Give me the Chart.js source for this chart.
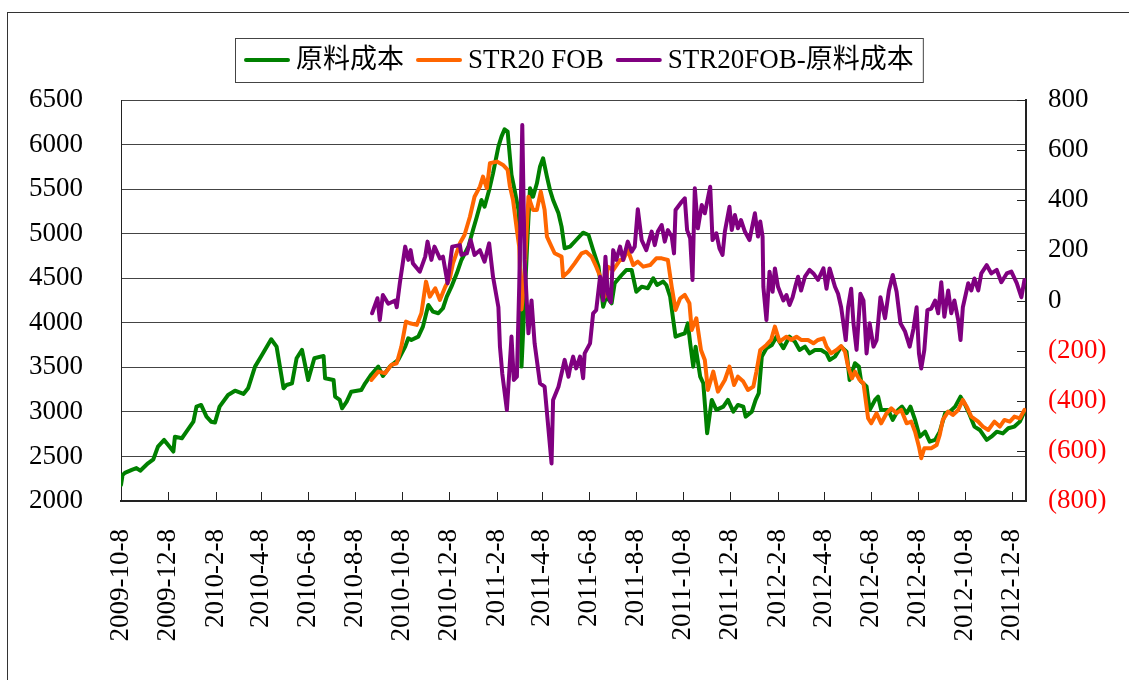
<!DOCTYPE html>
<html>
<head>
<meta charset="utf-8">
<script src="https://cdn.jsdelivr.net/npm/chart.js@4.4.1/dist/chart.umd.min.js"></script>
<style>
  body { margin: 0; background: #fff; }
  canvas { display: block; }
</style>
</head>
<body>
<canvas id="rubberChart" width="1129" height="680"></canvas>
<script>
// x positions are days since 2009-10-08
const startDate = Date.UTC(2009, 9, 8);
const tickLabels = ['2009-10-8', '2009-12-8', '2010-2-8', '2010-4-8', '2010-6-8', '2010-8-8',
  '2010-10-8', '2010-12-8', '2011-2-8', '2011-4-8', '2011-6-8', '2011-8-8', '2011-10-8',
  '2011-12-8', '2012-2-8', '2012-4-8', '2012-6-8', '2012-8-8', '2012-10-8', '2012-12-8'];

const costDays = [0, 2, 5, 14, 20, 25, 35, 42, 48, 56, 61, 68, 70, 79, 85, 94, 98, 104, 111, 117,
  122, 128, 139, 148, 159, 165, 174, 183, 195, 202, 211, 215, 222, 228, 235, 243, 251, 263, 265, 276,
  278, 284, 287, 293, 299, 312, 317, 325, 334, 340, 349, 360, 369, 373, 377, 386, 392, 399, 405, 412,
  418, 423, 429, 436, 442, 451, 457, 462, 468, 472, 478, 483, 490, 494, 498, 502, 507, 511, 516, 518,
  520, 523, 528, 531, 535, 540, 544, 548, 553, 557, 561, 568, 572, 576, 583, 591, 600, 607, 613, 620,
  626, 630, 637, 641, 650, 656, 663, 669, 676, 684, 691, 696, 704, 708, 713, 717, 720, 726, 732, 736,
  739, 743, 746, 752, 756, 761, 767, 773, 782, 788, 795, 801, 808, 811, 819, 824, 828, 832, 838, 845,
  851, 860, 868, 875, 881, 888, 894, 901, 909, 916, 920, 927, 935, 942, 946, 953, 958, 961, 968, 972,
  979, 983, 987, 996, 1002, 1009, 1014, 1020, 1025, 1031, 1037, 1044, 1050, 1057, 1063, 1070, 1076,
  1083, 1090, 1095, 1102, 1108, 1115, 1124, 1130, 1137, 1145, 1152, 1160, 1167, 1172];
const costVals = [2180, 2290, 2315, 2350, 2370, 2340, 2423, 2468, 2610, 2685, 2630, 2555, 2722, 2704,
  2778, 2890, 3059, 3078, 2947, 2890, 2880, 3059, 3190, 3238, 3201, 3265, 3508, 3638, 3815, 3732, 3265,
  3302, 3321, 3602, 3695, 3358, 3602, 3628, 3377, 3358, 3171, 3134, 3040, 3115, 3227, 3246, 3321, 3420,
  3508, 3403, 3508, 3583, 3732, 3826, 3807, 3845, 3957, 4200, 4125, 4107, 4163, 4293, 4405, 4555, 4705,
  4854, 5041, 5190, 5378, 5303, 5490, 5677, 5976, 6089, 6171, 6145, 5659, 5490, 5266, 4817, 3508, 4069,
  5003, 5509, 5415, 5565, 5752, 5846, 5640, 5490, 5378, 5228, 5079, 4836, 4854, 4929, 5011, 4985, 4817,
  4630, 4181, 4293, 4219, 4443, 4536, 4592, 4592, 4349, 4405, 4387, 4499, 4424, 4462, 4424, 4293, 4032,
  3844, 3863, 3882, 3994, 3770, 3508, 3732, 3396, 3321, 2761, 3134, 3022, 3059, 3134, 3003, 3078, 3059,
  2947, 3003, 3134, 3209, 3620, 3714, 3751, 3844, 3714, 3844, 3788, 3695, 3732, 3657, 3695, 3695, 3657,
  3583, 3620, 3732, 3676, 3358, 3546, 3508, 3340, 3284, 3022, 3134, 3171, 3022, 3022, 2910, 3022, 3059,
  2985, 3059, 2910, 2722, 2778, 2666, 2685, 2778, 2985, 3003, 3059, 3171, 3097, 2966, 2835, 2797, 2685,
  2722, 2778, 2759, 2816, 2835, 2891, 2985];

const fobDays = [325, 334, 343, 351, 358, 364, 370, 375, 384, 390, 396, 401, 408, 414, 421, 427, 431,
  440, 446, 453, 459, 466, 470, 475, 479, 488, 496, 502, 505, 509, 514, 517, 520, 523, 529, 535, 540,
  545, 550, 553, 557, 563, 572, 574, 581, 589, 598, 604, 611, 617, 624, 628, 632, 639, 648, 652, 658,
  665, 671, 678, 687, 695, 702, 710, 715, 720, 726, 732, 738, 741, 747, 753, 758, 762, 769, 775, 784,
  790, 796, 801, 808, 814, 821, 825, 830, 838, 844, 849, 855, 864, 870, 877, 883, 892, 899, 905, 912,
  916, 922, 929, 935, 940, 944, 949, 953, 959, 964, 970, 974, 981, 987, 994, 1000, 1007, 1013, 1020,
  1026, 1031, 1036, 1039, 1043, 1052, 1059, 1063, 1067, 1074, 1080, 1087, 1093, 1098, 1104, 1113, 1119,
  1126, 1134, 1141, 1147, 1154, 1160, 1167, 1173];
const fobVals = [3358, 3452, 3433, 3527, 3546, 3732, 4013, 3995, 3976, 4107, 4462, 4293, 4387, 4256,
  4405, 4499, 4667, 4892, 4985, 5190, 5415, 5528, 5640, 5509, 5790, 5809, 5771, 5715, 5528, 5378, 5041,
  4854, 4150, 4405, 5415, 5266, 5266, 5472, 5266, 4966, 4892, 4780, 4742, 4518, 4574, 4667, 4780, 4798,
  4742, 4630, 4480, 4293, 4630, 4592, 4705, 4705, 4817, 4648, 4686, 4630, 4648, 4723, 4723, 4705, 4405,
  4144, 4275, 4312, 4219, 3920, 4050, 3695, 3583, 3246, 3452, 3227, 3358, 3508, 3302, 3396, 3340, 3246,
  3284, 3452, 3695, 3751, 3807, 3957, 3789, 3844, 3807, 3844, 3807, 3807, 3770, 3807, 3826, 3732, 3657,
  3695, 3739, 3676, 3508, 3377, 3452, 3358, 3321, 2928, 2872, 2985, 2872, 2985, 3040, 2985, 3022, 2872,
  2891, 2778, 2610, 2480, 2592, 2592, 2629, 2741, 2910, 3003, 2966, 3022, 3134, 3059, 2947, 2891, 2835,
  2797, 2891, 2835, 2910, 2891, 2947, 2928, 3022];

const spreadDays = [326, 333, 336, 340, 347, 356, 358, 362, 369, 373, 376, 379, 388, 395, 398, 403,
  407, 414, 418, 424, 430, 440, 442, 449, 454, 459, 466, 472, 478, 483, 490, 492, 495, 501, 507, 510,
  514, 517, 521, 524, 529, 533, 537, 544, 550, 559, 561, 568, 572, 576, 581, 583, 587, 591, 596, 600,
  602, 609, 613, 617, 622, 626, 629, 632, 636, 639, 643, 648, 652, 658, 663, 667, 671, 676, 682, 689,
  693, 697, 702, 706, 710, 715, 718, 720, 728, 732, 735, 739, 742, 745, 749, 754, 758, 765, 768, 773,
  777, 781, 784, 790, 793, 797, 801, 805, 810, 816, 823, 827, 830, 833, 834, 838, 842, 846, 849, 853,
  860, 864, 868, 872, 876, 879, 883, 888, 894, 899, 905, 912, 916, 920, 927, 931, 935, 941, 944, 948,
  951, 955, 960, 964, 968, 972, 977, 981, 986, 992, 997, 1002, 1007, 1012, 1018, 1024, 1029, 1033,
  1036, 1039, 1043, 1047, 1052, 1057, 1061, 1065, 1069, 1074, 1078, 1082, 1087, 1090, 1093, 1100,
  1104, 1108, 1113, 1117, 1124, 1130, 1137, 1143, 1150, 1156, 1163, 1169, 1173];
const spreadVals = [-51, 9, -78, 22, -13, 0, -27, 69, 215, 162, 201, 148, 115, 175, 235, 162, 215, 168,
  175, 69, 215, 221, 182, 188, 241, 182, 201, 155, 228, 95, -27, -184, -291, -437, -144, -317, -304, 55,
  700, 162, -131, 0, -171, -331, -344, -650, -397, -344, -291, -237, -304, -271, -224, -271, -224, -310,
  -211, -171, -51, -38, 95, 0, 175, 27, -7, 201, 162, 215, 162, 235, 195, 215, 364, 241, 201, 275, 221,
  275, 301, 235, 281, 255, 188, 361, 394, 408, 281, 248, 82, 448, 288, 381, 348, 454, 241, 268, 208, 182,
  275, 374, 281, 341, 288, 321, 275, 241, 348, 255, 315, 255, 55, -78, 115, 35, 128, 55, 0, 22, -18, 13,
  62, 95, 40, 95, 122, 108, 82, 128, 47, 128, 55, 27, -27, -158, -27, 47, -91, -197, 27, 0, -211, -91,
  -184, -158, 13, -71, 40, 102, 35, -91, -124, -184, -111, -27, -211, -271, -197, -38, -32, 0, -51, 73,
  -65, 40, -51, 0, -78, -158, -27, 69, 40, 88, 40, 108, 141, 108, 122, 73, 108, 115, 69, 13, 82];

const seriesNames = ['原料成本', 'STR20 FOB', 'STR20FOB-原料成本'];
const seriesColors = ['#008000', '#ff6600', '#800080'];

const FONT = "'Liberation Serif', 'Noto Sans CJK SC', serif";
const tickDays = tickLabels.map(s => {
  const [y, m, d] = s.split('-').map(Number);
  return Math.round((Date.UTC(y, m - 1, d) - startDate) / 86400000);
});
const toPoints = (days, vals) => days.map((d, i) => ({ x: d, y: vals[i] }));

// white page, outer frame, inside tick marks
const framePlugin = {
  id: 'frame',
  beforeDraw(chart) {
    const c = chart.ctx;
    c.save();
    c.fillStyle = '#fff';
    c.fillRect(0, 0, chart.width, chart.height);
    c.strokeStyle = '#333';
    c.lineWidth = 1;
    c.strokeRect(7.5, 12.5, 1300, 900);
    c.restore();
  },
  afterDraw(chart) {
    const c = chart.ctx;
    const a = chart.chartArea;
    c.save();
    c.strokeStyle = '#222';
    c.lineWidth = 1;
    c.beginPath();
    chart.scales.x.ticks.forEach(t => {
      const px = Math.round(chart.scales.x.getPixelForValue(t.value)) + 0.5;
      c.moveTo(px, a.bottom);
      c.lineTo(px, a.bottom - 9);
    });
    chart.scales.y2.ticks.forEach(t => {
      const py = Math.round(chart.scales.y2.getPixelForValue(t.value)) + 0.5;
      c.moveTo(a.right, py);
      c.lineTo(a.right - 9, py);
    });
    c.stroke();
    c.restore();
  }
};

// boxed legend above the plot
const legendPlugin = {
  id: 'boxLegend',
  afterDraw(chart) {
    const c = chart.ctx;
    c.save();
    c.font = '27px ' + FONT;
    c.textBaseline = 'middle';
    const lineLen = 46, gapText = 6, gapItem = 12, pad = 9;
    const widths = chart.data.datasets.map(ds => c.measureText(ds.label).width);
    let total = pad * 2;
    widths.forEach((w, i) => { total += lineLen + gapText + w + (i ? gapItem : 0); });
    const cx = 579, top = 38, h = 44, mid = top + h / 2;
    let x = Math.round(cx - total / 2);
    c.strokeStyle = '#444';
    c.lineWidth = 1;
    c.strokeRect(x + 0.5, top + 0.5, total, h);
    x += pad;
    chart.data.datasets.forEach((ds, i) => {
      if (i) x += gapItem;
      c.strokeStyle = ds.borderColor;
      c.lineWidth = 4;
      c.lineCap = 'round';
      c.beginPath();
      c.moveTo(x + 2, mid);
      c.lineTo(x + lineLen - 2, mid);
      c.stroke();
      x += lineLen + gapText;
      c.fillStyle = '#000';
      c.fillText(ds.label, x, mid + 1);
      x += widths[i];
    });
    c.restore();
  }
};

const lineStyle = { borderWidth: 4, pointRadius: 0, tension: 0, borderJoinStyle: 'round', borderCapStyle: 'round', fill: false };

new Chart(document.getElementById('rubberChart'), {
  type: 'line',
  data: {
    datasets: [
      { label: seriesNames[0], data: toPoints(costDays, costVals), borderColor: seriesColors[0], yAxisID: 'y', order: 2, ...lineStyle },
      { label: seriesNames[1], data: toPoints(fobDays, fobVals), borderColor: seriesColors[1], yAxisID: 'y', order: 1, ...lineStyle },
      { label: seriesNames[2], data: toPoints(spreadDays, spreadVals), borderColor: seriesColors[2], yAxisID: 'y2', order: 0, ...lineStyle }
    ]
  },
  options: {
    responsive: false,
    animation: false,
    layout: { padding: { top: 100, left: 0, right: 0, bottom: 0 } },
    plugins: { legend: { display: false }, tooltip: { enabled: false } },
    scales: {
      x: {
        type: 'linear',
        min: 0,
        max: 1175,
        afterBuildTicks: s => { s.ticks = tickDays.map(v => ({ value: v })); },
        afterFit: s => { s.height = 179; },
        grid: { display: false },
        border: { display: true, color: '#222', width: 2 },
        ticks: {
          autoSkip: false,
          maxRotation: 90,
          minRotation: 90,
          padding: 20,
          color: '#000',
          font: { family: FONT, size: 27 },
          callback: (v, i) => tickLabels[i]
        }
      },
      y: {
        position: 'left',
        min: 2000,
        max: 6500,
        afterFit: s => { s.width = 121; },
        grid: { color: '#444', lineWidth: 1, drawTicks: false },
        border: { display: true, color: '#222', width: 1 },
        ticks: {
          stepSize: 500,
          padding: 38,
          color: '#000',
          font: { family: FONT, size: 27 },
          callback: v => String(v)
        }
      },
      y2: {
        position: 'right',
        min: -800,
        max: 800,
        afterFit: s => { s.width = 103; },
        grid: { display: false, drawTicks: false },
        border: { display: true, color: '#222', width: 2 },
        ticks: {
          stepSize: 200,
          padding: 22,
          font: { family: FONT, size: 27 },
          color: ctx => (ctx.tick && ctx.tick.value < 0 ? '#ff0000' : '#000'),
          callback: v => (v < 0 ? '(' + (-v) + ')' : String(v))
        }
      }
    }
  },
  plugins: [framePlugin, legendPlugin]
});
</script>
</body>
</html>
